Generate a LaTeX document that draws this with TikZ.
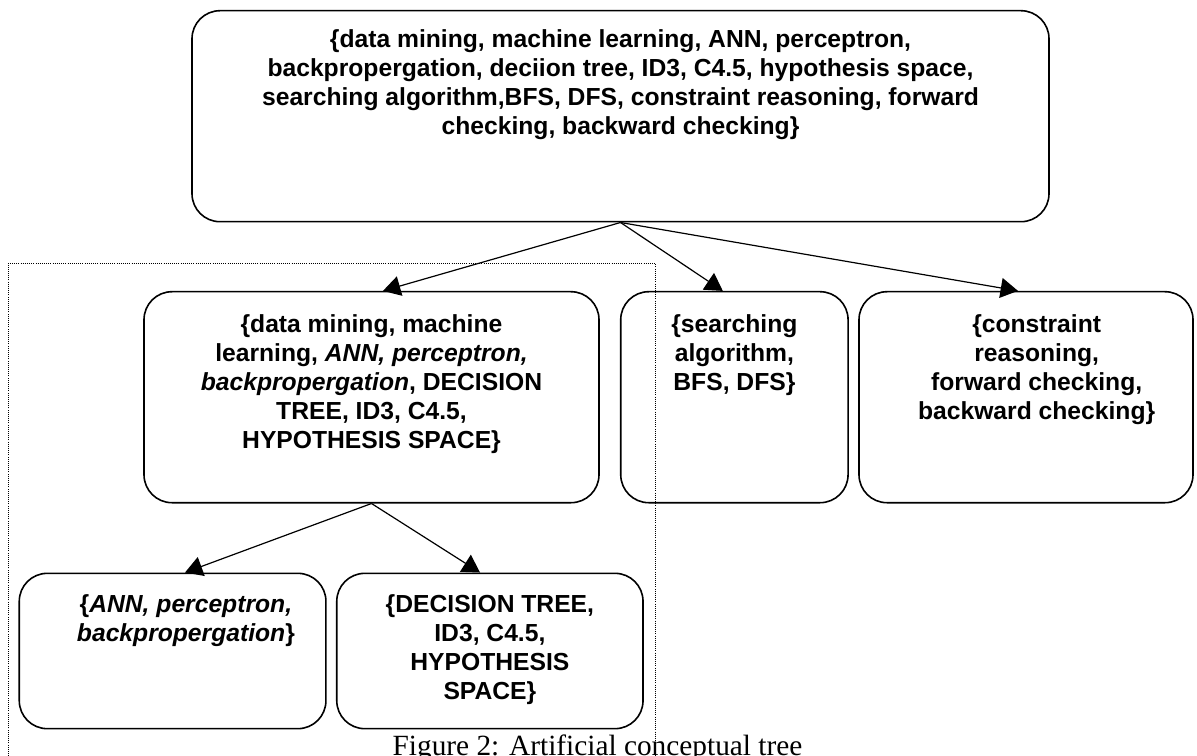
\documentclass[tikz,border=0pt]{standalone}
\usepackage{fontspec}
\setmainfont{Liberation Sans}
\newfontfamily\capfont{Liberation Serif}
\usetikzlibrary{positioning,arrows.meta}

\begin{document}
\begin{tikzpicture}[x=0.75pt,y=-0.75pt,
    setbox/.style={draw,rounded corners=21pt,line width=1.2pt,inner sep=0pt},
    settext/.style={font=\bfseries\fontsize{18.5}{21.8}\selectfont,align=center,inner sep=0pt,anchor=north},
    link/.style={line width=0.9pt,-{Triangle[length=13pt,width=15pt]}}]
    \useasboundingbox (0,0) rectangle (1197,756);

    % Dotted frame round the left branch (runs off the bottom)
    \draw[densely dotted,line width=0.6pt] (8,756) -- (8,263) -- (655,263) -- (655,756);

    % Root concept set
    \node[setbox,minimum width=642.75pt,minimum height=158.25pt] (root) at (620.5,116.2) {};
    \node[settext,below=14.5pt of root.north] (roottxt) {\{data mining, machine learning, ANN, perceptron,\\backpropergation, deciion tree, ID3, C4.5, hypothesis space,\\searching algorithm,BFS, DFS, constraint reasoning, forward\\checking, backward checking\}};

    % Second level
    \node[setbox,minimum width=341.25pt,minimum height=158.25pt] (learn) at (371.5,397.2) {};
    \node[settext,below=17.5pt of learn.north] (learntxt) {\{data mining, machine\\learning, \textit{ANN, perceptron,}\\\textit{backpropergation}, DECISION\\TREE, ID3, C4.5,\\HYPOTHESIS SPACE\}};

    \node[setbox,minimum width=170.5pt,minimum height=158.25pt] (search) at (734.4,397.2) {};
    \node[settext,below=17.5pt of search.north] (searchtxt) {\{searching\\algorithm,\\BFS, DFS\}};

    \node[setbox,minimum width=250.5pt,minimum height=158.25pt] (csp) at (1026,397.2) {};
    \node[settext,below=17.5pt of csp.north,xshift=8pt] (csptxt) {\{constraint\\reasoning,\\forward checking,\\backward checking\}};

    % Third level
    \node[setbox,minimum width=230pt,minimum height=116.5pt] (ann) at (172.6,651) {};
    \node[settext,below=16.5pt of ann.north,xshift=10pt] (anntxt) {\{\textit{ANN, perceptron,}\\\textit{backpropergation}\}};

    \node[setbox,minimum width=229.7pt,minimum height=116.5pt] (tree) at (489.9,651) {};
    \node[settext,below=16.5pt of tree.north] (treetxt) {\{DECISION TREE,\\ID3, C4.5,\\HYPOTHESIS\\SPACE\}};

    % Links
    \draw[link] (root.south) -- ([xshift=8.6pt]learn.north);
    \draw[link] (root.south) -- ([xshift=-8.7pt]search.north);
    \draw[link] (root.south) -- ([xshift=-6pt]csp.north);
    \draw[link] (learn.south) -- ([xshift=9.3pt]ann.north);
    \draw[link] (learn.south) -- ([xshift=-7.4pt]tree.north);

    % Caption
    \node[font=\capfont\fontsize{22}{26}\selectfont,anchor=base,inner sep=0pt] (cap) at (597.5,755) {Figure 2: Artificial conceptual tree};
\end{tikzpicture}
\end{document}
